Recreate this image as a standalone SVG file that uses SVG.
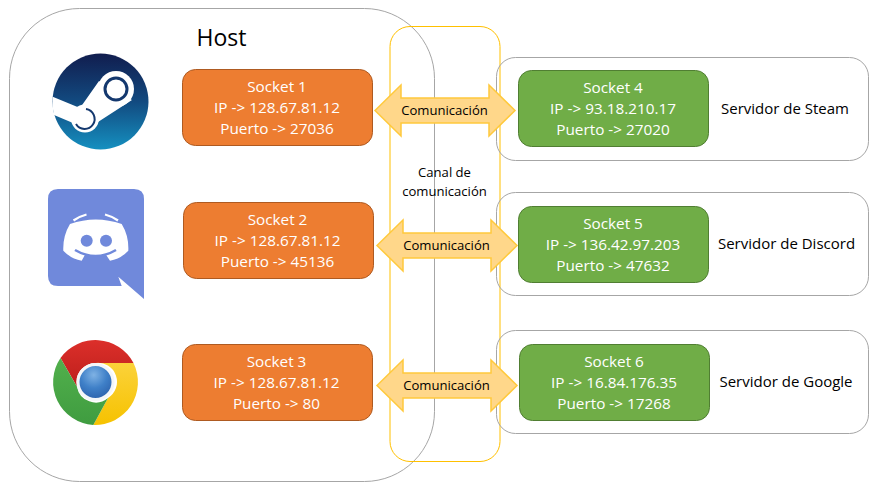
<svg xmlns="http://www.w3.org/2000/svg" width="887" height="492" viewBox="0 0 887 492">
<defs>
<linearGradient id="steamG" x1="0" y1="0" x2="0" y2="1"><stop offset="0" stop-color="#111d4e"/><stop offset="0.5" stop-color="#124a80"/><stop offset="1" stop-color="#1590c0"/></linearGradient>
<radialGradient id="chromeB" cx="0.45" cy="0.3" r="0.75"><stop offset="0" stop-color="#7fb2e4"/><stop offset="0.5" stop-color="#3f80c8"/><stop offset="1" stop-color="#2a5ea8"/></radialGradient>
<linearGradient id="chromeR" x1="0" y1="0" x2="0" y2="1"><stop offset="0" stop-color="#dc2f2a"/><stop offset="1" stop-color="#bd1f1c"/></linearGradient>
<linearGradient id="chromeY" x1="0" y1="0" x2="0" y2="1"><stop offset="0" stop-color="#fbd23a"/><stop offset="1" stop-color="#f6c200"/></linearGradient>
<linearGradient id="chromeV" x1="0" y1="0" x2="0" y2="1"><stop offset="0" stop-color="#52b04c"/><stop offset="1" stop-color="#3f9c40"/></linearGradient>
</defs>
<style>
text{font-family:"Open Sans","Noto Sans","Liberation Sans",sans-serif;text-anchor:middle}
.frame{fill:none;stroke:#a6a6a6;stroke-width:1}
.canal{fill:none;stroke:#ffc000;stroke-width:1}
.sock{stroke-width:1}
.or{fill:#ed7d31;stroke:#ae5a21}
.gr{fill:#70ad47;stroke:#507e32}
.w{fill:#fff;font-size:15.3px}
.k{fill:#000;font-size:15px}
.s{fill:#000;font-size:13.1px}
.arr{fill:#ffd78a;stroke:#ffc93c;stroke-width:1.5}
</style>
<g id="host"><rect class="frame" x="9.500" y="8.500" width="425" height="473" rx="70"/><text x="221.500" y="46" style="font-size:23px;fill:#000">Host</text></g>
<g id="canal"><rect class="canal" x="390" y="26.500" width="110" height="435" rx="20"/><text class="s" x="444.500" y="177">Canal de</text><text class="s" x="444.500" y="196">comunicación</text></g>
<g id="steam-icon">
<circle cx="100.500" cy="101.500" r="48" fill="url(#steamG)"/>
<path d="M52.700 96.700 L80 108 L99 81 L132 100 L98 122 L85 131 L73 123 L54 115 A48 48 0 0 1 52.700 96.700Z" fill="#fff"/>
<circle cx="116" cy="89" r="18" fill="#fff"/>
<circle cx="85" cy="118.500" r="14" fill="#fff"/>
<circle cx="116" cy="89" r="11" fill="#fff" stroke="#14386e" stroke-width="3"/>
<path d="M86 109 A10 10 0 1 1 76 124" fill="none" stroke="#14386e" stroke-width="2"/>
</g>
<g id="discord-icon">
<path d="M58 189 H134 Q144 189 144 199 V299 L118.300 276.700 L121.700 286 H58 Q48 286 48 276 V199 Q48 189 58 189Z" fill="#7089db"/>
<path d="M70 224 Q95.700 215 121.700 224 Q129 236 128.300 250.700 Q120 259.300 110 260.700 L106 254.700 Q95.700 257.500 85 254.700 L81.700 260.700 Q71.700 259.300 63.300 250.700 Q62.700 236 70 224Z" fill="#fff"/>
<path d="M73.500 220.500 Q79 216.500 86.500 214.500 M118 220.500 Q112.500 216.500 105 214.500" fill="none" stroke="#fff" stroke-width="2.200"/>
<path d="M75 250 Q95.700 262 116 250" fill="none" stroke="#7089db" stroke-width="2.500"/>
<circle cx="86.700" cy="240.700" r="6" fill="#7089db"/>
<circle cx="106" cy="240.700" r="6" fill="#7089db"/>
</g>
<g id="chrome-icon">
<path d="M60.500 358 A43 43 0 0 1 133.500 363 L95.500 363 A19 19 0 0 0 77 386.700 Z" fill="url(#chromeR)"/>
<path d="M133.500 363 A43 43 0 0 1 93.300 425 L108 398 A19 19 0 0 0 95.500 363 Z" fill="url(#chromeY)"/>
<path d="M93.300 425 A43 43 0 0 1 60.500 358 L77 386.700 A19 19 0 0 0 108 398 Z" fill="url(#chromeV)"/>
<circle cx="95.500" cy="382" r="17.500" fill="url(#chromeB)" stroke="#f4f6f8" stroke-width="3"/>
</g>
<g id="socket1"><rect class="sock or" x="182.500" y="69.500" width="190" height="76" rx="13"/><text class="w" x="277" y="92">Socket 1</text><text class="w" x="277" y="113">IP -&gt; 128.67.81.12</text><text class="w" x="277" y="134">Puerto -&gt; 27036</text></g>
<g id="socket2"><rect class="sock or" x="183.500" y="202.500" width="190" height="76" rx="13"/><text class="w" x="277.500" y="225">Socket 2</text><text class="w" x="277.500" y="246">IP -&gt; 128.67.81.12</text><text class="w" x="277.500" y="267">Puerto -&gt; 45136</text></g>
<g id="socket3"><rect class="sock or" x="182.500" y="344.500" width="190" height="76" rx="13"/><text class="w" x="276.500" y="367">Socket 3</text><text class="w" x="276.500" y="388">IP -&gt; 128.67.81.12</text><text class="w" x="276.500" y="409">Puerto -&gt; 80</text></g>
<g id="server-steam"><rect class="frame" x="496.500" y="57.500" width="372" height="103" rx="19"/><text class="k" x="785" y="114">Servidor de Steam</text></g>
<g id="server-discord"><rect class="frame" x="496.500" y="192.500" width="372" height="103" rx="19"/><text class="k" x="786.500" y="249">Servidor de Discord</text></g>
<g id="server-google"><rect class="frame" x="496.500" y="330.500" width="372" height="103" rx="19"/><text class="k" x="786" y="387">Servidor de Google</text></g>
<g id="socket4"><rect class="sock gr" x="518.500" y="70.500" width="190" height="76" rx="13"/><text class="w" x="613" y="93">Socket 4</text><text class="w" x="613" y="114">IP -&gt; 93.18.210.17</text><text class="w" x="613" y="135">Puerto -&gt; 27020</text></g>
<g id="socket5"><rect class="sock gr" x="518.500" y="206.500" width="190" height="76" rx="13"/><text class="w" x="613" y="229">Socket 5</text><text class="w" x="613" y="250">IP -&gt; 136.42.97.203</text><text class="w" x="613" y="271">Puerto -&gt; 47632</text></g>
<g id="socket6"><rect class="sock gr" x="519.500" y="344.500" width="190" height="76" rx="13"/><text class="w" x="614" y="367">Socket 6</text><text class="w" x="614" y="388">IP -&gt; 16.84.176.35</text><text class="w" x="614" y="409">Puerto -&gt; 17268</text></g>
<g id="connectors">
<g><path class="arr" d="M375 110.500 L401 85 V98 H489 V85 L515 110.500 L489 136 V123 H401 V136Z"/><text class="s" x="444.500" y="115">Comunicación</text></g>
<g><path class="arr" d="M377 245.500 L403 220 V233 H491 V220 L517 245.500 L491 271 V258 H403 V271Z"/><text class="s" x="446.500" y="250">Comunicación</text></g>
<g><path class="arr" d="M377 385.500 L403 360 V373 H491 V360 L517 385.500 L491 411 V398 H403 V411Z"/><text class="s" x="446.500" y="390">Comunicación</text></g>
</g>
</svg>
